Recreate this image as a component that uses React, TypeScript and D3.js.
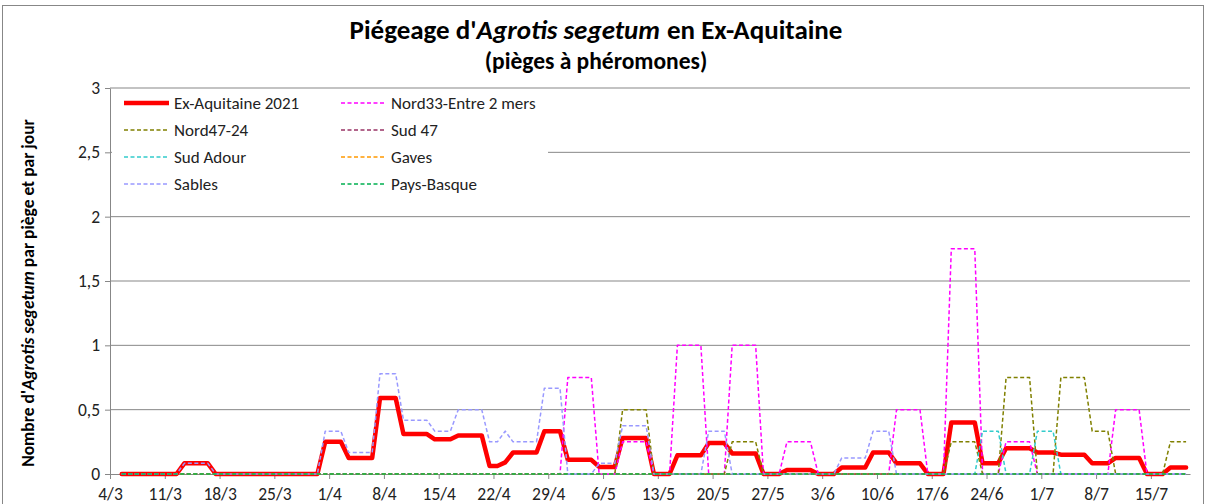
import React, { useEffect, useRef } from 'react';
import * as d3 from 'd3';

type Run = [string, string, number]; // [first day, last day, value], days not listed are 0

const firstDay = '5/3';
const lastDay = '19/7';
const tickLabels = ['4/3', '11/3', '18/3', '25/3', '1/4', '8/4', '15/4', '22/4', '29/4', '6/5',
  '13/5', '20/5', '27/5', '3/6', '10/6', '17/6', '24/6', '1/7', '8/7', '15/7'];
const yTicks = [0, 0.5, 1, 1.5, 2, 2.5, 3];

const exAquitaine: Run[] = [
  ['13/3', '16/3', 0.083], ['31/3', '2/4', 0.25], ['3/4', '6/4', 0.125], ['7/4', '9/4', 0.59],
  ['10/4', '13/4', 0.31], ['14/4', '16/4', 0.27], ['17/4', '20/4', 0.3], ['21/4', '22/4', 0.0625],
  ['23/4', '23/4', 0.09], ['24/4', '27/4', 0.167], ['28/4', '30/4', 0.333], ['1/5', '4/5', 0.11],
  ['5/5', '7/5', 0.055], ['8/5', '11/5', 0.28], ['15/5', '18/5', 0.145], ['19/5', '21/5', 0.24],
  ['22/5', '25/5', 0.16], ['29/5', '1/6', 0.031], ['5/6', '8/6', 0.05], ['9/6', '11/6', 0.167],
  ['12/6', '15/6', 0.083], ['19/6', '22/6', 0.4], ['23/6', '25/6', 0.083], ['26/6', '29/6', 0.2],
  ['30/6', '2/7', 0.167], ['3/7', '6/7', 0.15], ['7/7', '9/7', 0.083], ['10/7', '13/7', 0.125],
  ['17/7', '19/7', 0.05],
];
const nord33: Run[] = [
  ['1/5', '4/5', 0.75], ['8/5', '11/5', 0.25], ['15/5', '18/5', 1], ['22/5', '25/5', 1],
  ['29/5', '1/6', 0.25], ['12/6', '15/6', 0.5], ['19/6', '22/6', 1.75], ['26/6', '29/6', 0.25],
  ['10/7', '13/7', 0.5],
];
const nord47: Run[] = [
  ['8/5', '11/5', 0.5], ['22/5', '25/5', 0.25], ['19/6', '22/6', 0.25], ['26/6', '29/6', 0.75],
  ['3/7', '6/7', 0.75], ['7/7', '9/7', 0.333], ['17/7', '19/7', 0.25],
];
const sud47: Run[] = [];
const sudAdour: Run[] = [['23/6', '25/6', 0.333], ['30/6', '2/7', 0.333]];
const gaves: Run[] = [];
const sables: Run[] = [
  ['13/3', '16/3', 0.083], ['31/3', '2/4', 0.333], ['3/4', '6/4', 0.167], ['7/4', '9/4', 0.78],
  ['10/4', '13/4', 0.417], ['14/4', '16/4', 0.333], ['17/4', '20/4', 0.5], ['21/4', '22/4', 0.25],
  ['23/4', '23/4', 0.333], ['24/4', '27/4', 0.25], ['28/4', '30/4', 0.667], ['5/5', '7/5', 0.083],
  ['8/5', '11/5', 0.375], ['19/5', '21/5', 0.333], ['5/6', '8/6', 0.125], ['9/6', '11/6', 0.333],
];
const paysBasque: Run[] = [];

const series = [
  { name: 'Ex-Aquitaine 2021', runs: exAquitaine, color: '#ff0000', main: true },
  { name: 'Nord33-Entre 2 mers', runs: nord33, color: '#ff00ff' },
  { name: 'Nord47-24', runs: nord47, color: '#808000' },
  { name: 'Sud 47', runs: sud47, color: '#993366' },
  { name: 'Sud Adour', runs: sudAdour, color: '#33cccc' },
  { name: 'Gaves', runs: gaves, color: '#ff9900' },
  { name: 'Sables', runs: sables, color: '#9999ff' },
  { name: 'Pays-Basque', runs: paysBasque, color: '#00b050' },
];

const parse = (s: string) => {
  const [d, m] = s.split('/').map(Number);
  return new Date(Date.UTC(2021, m - 1, d));
};

const expand = (runs: Run[]) => {
  const days = d3.utcDay.range(parse(firstDay), d3.utcDay.offset(parse(lastDay), 1));
  return days.map(day => {
    const r = runs.find(([a, b]) => day >= parse(a) && day <= parse(b));
    return { date: day, value: r ? r[2] : 0 };
  });
};

const font = 'Carlito, Calibri, Lato, sans-serif';
const gridColor = '#878787';
const width = 1210;
const height = 504;
const margin = { top: 88, right: 20, bottom: 30, left: 110 };

const App = () => {
  const xAxisRef = useRef<SVGGElement>(null);
  const yAxisRef = useRef<SVGGElement>(null);

  const x = d3.scaleUtc()
    .domain([parse('4/3'), parse('20/7')])
    .range([margin.left, width - margin.right]);
  const y = d3.scaleLinear()
    .domain([0, 3])
    .range([height - margin.bottom, margin.top]);

  const line = d3.line<{ date: Date; value: number }>()
    .x(d => x(d3.utcHour.offset(d.date, 12)))
    .y(d => y(d.value));

  useEffect(() => {
    const gx = d3.select(xAxisRef.current!);
    gx.call(d3.axisBottom(x)
      .tickValues(tickLabels.map(parse))
      .tickFormat((_, i) => tickLabels[i])
      .tickSize(5)
      .tickSizeOuter(0)
      .tickPadding(9));
    gx.select('.domain').attr('stroke', gridColor);
    gx.selectAll('.tick line').attr('stroke', gridColor);
    gx.selectAll('.tick text').attr('font-size', 17.5).attr('font-family', font).attr('fill', '#222');

    const gy = d3.select(yAxisRef.current!);
    gy.call(d3.axisLeft(y)
      .tickValues(yTicks)
      .tickFormat(v => String(v).replace('.', ','))
      .tickSize(5)
      .tickSizeOuter(0)
      .tickPadding(5));
    gy.select('.domain').attr('stroke', gridColor);
    gy.selectAll('.tick line').attr('stroke', gridColor);
    gy.selectAll('.tick text').attr('font-size', 17.5).attr('font-family', font).attr('fill', '#222');
  }, []);

  const legendX = [124, 341];
  const legendY = 103;
  const legendStep = 27;

  return (
    <svg width={width} height={height} style={{ position: 'absolute', left: 0, top: 0, background: '#fff' }}>
      <rect x={2.5} y={5.5} width={1201} height={600} fill="#fff" stroke={gridColor} />

      <text x={596} y={39} textAnchor="middle" fontFamily={font} fontWeight="bold" fontSize={27}>
        Piégeage d'<tspan fontStyle="italic">Agrotis segetum</tspan><tspan dx={7}>en Ex-Aquitaine</tspan>
      </text>
      <text x={596} y={69} textAnchor="middle" fontFamily={font} fontWeight="bold" fontSize={23.5}>
        (pièges à phéromones)
      </text>

      <text transform={`translate(34,${293}) rotate(-90)`} textAnchor="middle" fontFamily={font}
        fontWeight="bold" fontSize={17.5}>
        Nombre d'<tspan fontStyle="italic">Agrotis segetum</tspan> par piège et par jour
      </text>

      {yTicks.filter(t => t > 0).map(t => (
        <line key={t} x1={margin.left} x2={width - margin.right} y1={y(t)} y2={y(t)} stroke={gridColor} />
      ))}

      <rect x={112} y={91} width={436} height={106} fill="#fff" />

      <g ref={yAxisRef} transform={`translate(${margin.left},0)`} />
      <g ref={xAxisRef} transform={`translate(0,${height - margin.bottom})`} />

      {series.map(s => (
        <path key={s.name} d={line(expand(s.runs)) ?? ''} fill="none" stroke={s.color}
          strokeWidth={s.main ? 4.5 : 1.5} strokeDasharray={s.main ? undefined : '4 2.5'}
          strokeLinejoin="round" strokeLinecap={s.main ? 'round' : 'butt'} />
      ))}

      {series.map((s, i) => {
        const lx = legendX[i % 2];
        const ly = legendY + Math.floor(i / 2) * legendStep;
        return (
          <g key={s.name}>
            <line x1={lx} x2={lx + 45} y1={ly} y2={ly} stroke={s.color}
              strokeWidth={s.main ? 4.5 : 1.5} strokeDasharray={s.main ? undefined : '4 2.5'} />
            <text x={lx + 50} y={ly + 6} fontFamily={font} fontSize={17} fill="#222">{s.name}</text>
          </g>
        );
      })}
    </svg>
  );
};

export default App;
